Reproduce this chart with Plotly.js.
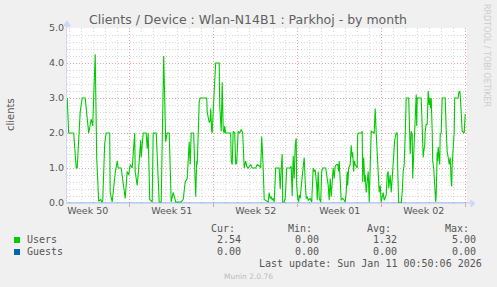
<!DOCTYPE html>
<html>
<head>
<meta charset="utf-8">
<script src="https://cdn.plot.ly/plotly-3.0.1.min.js"></script>
<style>
  html, body { margin: 0; padding: 0; background: #F0F0F0; }
  #chart { width: 497px; height: 287px; }
</style>
</head>
<body>
<div id="chart"></div>
<script>
// Time in hours since Monday 2025-12-08 00:00 (start of Week 50)
const usersHours = [43,46,56,61,63,69,73,79,86,91,94,99,102,106,110,112,114,118,121,128,129,133,139,143,145,151,159,163,166,169,173,176,178,179,183,186,190,191,195,201,203,205,208,213,215,221,227,231,236,240,243,247,251,255,260,271,275,279,283,287,289,291,296,298,300,302,303,305,307,309,322,323,327,329,330,332,333,337,340,347,348,351,353,355,357,358,360,370,371,373,375,378,380,382,385,388,391,394,397,400,402,405,410,413,420,423,428,430,432,435,437,445,447,449,451,453,455,457,459,460,467,469,471,473,474,477,479,481,482,489,491,493,494,495,497,499,501,502,504,506,507,509,512,514,515,517,519,521,523,525,529,532,535,537,539,542,543,545,547,550,552,554,560,562,565,567,569,571,575,577,579,582,584,586,587,591,594,597,599,601,603,604,606,609,611,613,614,616,617,619,623,624,625,632,633,634,636,638,639,641,643,645,647,649,651,657,659,661,663,664,665,667,669,671,675,677,681,683,685,686,689,691,693,696,698,701,703,704,706,711,713,715,717,719,721,726,728,729,731,733,734,735,737,739,741,742,743,751,753,755,756,758,759,761,763,764,765,767,768,770,771,773,774,776,777,779,780,781,783,784,785,787,788,789,791,793,799,801,803,805,807,808,809,811,812,813,815,817,818,825,826,828,829,831,832,833,837,838,839];
const usersValues = [3.0,2.0,2.0,1.0,1.0,2.6,3.0,3.0,2.0,2.4,2.2,4.25,1.3,0.05,0.1,0.03,0.05,1.7,2.0,2.0,0.3,0.03,0.85,1.2,1.0,1.0,0.13,0.9,0.8,1.1,1.0,1.85,2.0,0.9,0.5,1.0,1.8,1.3,2.0,2.0,1.55,2.0,0.1,0.03,2.0,2.0,0.03,0.03,4.2,1.75,2.0,2.0,0.03,0.3,0.03,0.03,0.1,0.6,0.7,1.75,1.1,2.0,2.0,1.0,0.18,1.2,1.1,1.95,2.9,3.0,3.0,2.6,2.3,2.35,2.7,2.05,2.0,3.2,4.0,4.0,2.8,2.05,3.45,2.1,2.0,2.2,2.0,2.0,1.2,1.1,2.05,2.0,1.1,1.15,2.05,2.0,2.1,2.0,1.0,1.2,1.05,1.0,1.1,1.0,1.0,1.1,1.05,1.0,1.9,1.0,0.1,0.03,0.3,0.13,0.18,0.08,0.13,0.03,0.7,1.0,1.0,0.4,1.0,1.4,0.03,0.03,0.13,0.9,1.0,1.0,1.05,0.2,0.75,1.35,0.7,1.65,1.85,0.5,0.13,0.03,0.23,0.13,0.6,1.0,0.9,1.3,0.6,0.13,0.18,0.08,0.13,0.03,1.0,0.9,0.95,0.5,0.08,0.9,0.13,0.03,0.9,1.0,1.0,0.8,0.5,0.08,0.7,0.18,1.0,0.7,1.05,1.1,1.1,0.9,1.2,0.08,0.13,0.08,0.03,0.3,0.9,0.5,1.0,1.1,1.65,1.3,1.45,0.9,1.2,1.1,1.0,1.95,2.0,2.0,2.05,0.6,1.3,0.6,0.8,0.3,0.7,0.9,0.03,1.45,2.05,2.0,2.7,2.0,1.3,1.1,0.7,0.3,0.5,0.03,0.3,0.08,0.23,0.8,0.9,0.42,0.8,0.3,0.7,1.3,1.8,2.0,2.0,1.0,0.0,0.0,0.3,0.9,1.1,1.95,3.0,3.0,1.95,1.4,2.05,1.95,0.7,1.1,2.05,2.8,3.1,2.2,3.0,3.0,2.05,1.3,1.45,1.65,2.05,2.25,2.25,2.9,3.2,2.8,3.0,2.7,3.0,2.05,1.2,1.0,0.8,0.13,0.03,0.23,1.45,1.2,1.6,1.3,1.1,1.95,2.0,3.0,3.0,2.1,1.45,1.3,1.1,1.2,1.3,0.6,0.47,1.1,1.65,2.05,3.0,3.0,3.15,3.2,3.1,2.7,2.2,2.05,2.0,2.2,2.54];
const guestsHours = [43, 842];
const guestsValues = [0, 0];

const weekTickHours = [84, 252, 420, 588, 756];
const weekTickLabels = ['Week 50', 'Week 51', 'Week 52', 'Week 01', 'Week 02'];

const legendNames = ['Users', 'Guests'];
const legendColors = ['#00CC00', '#0066B3'];
const statHeaders = ['Cur:', 'Min:', 'Avg:', 'Max:'];
const usersStats = ['2.54', '0.00', '1.32', '5.00'];
const guestsStats = ['0.00', '0.00', '0.00', '0.00'];

const titleText = 'Clients / Device : Wlan-N14B1 : Parkhoj - by month';
const yLabel = 'clients';
const lastUpdate = 'Last update: Sun Jan 11 00:50:06 2026';
const footer = 'Munin 2.0.76';
const sideText = 'RRDTOOL / TOBI OETIKER';

// ---- layout geometry (pixels) ----
const W = 497, H = 287, L = 67, T = 28, PW = 400, PH = 175;
const px = x => (x - L) / PW;
const py = y => (T + PH - y) / PH;

const mono = 'DejaVu Sans Mono';
const sans = 'DejaVu Sans';
const fontCol = '#555555';

const annotations = [];
function ann(text, x, y, xanchor, font, extra) {
  annotations.push(Object.assign({
    text: text, xref: 'paper', yref: 'paper', x: px(x), y: py(y),
    xanchor: xanchor, yanchor: 'middle', showarrow: false,
    font: font, borderpad: 0
  }, extra || {}));
}
const monoFont = {family: mono, size: 10, color: fontCol};

const headerRight = [236, 313, 392, 470];
const valueRight = [242, 320, 398, 477];
statHeaders.forEach((h, i) => ann(h, headerRight[i], 228.5, 'right', monoFont));
ann(legendNames[0], 26, 239.5, 'left', monoFont);
ann(legendNames[1], 26, 251.5, 'left', monoFont);
usersStats.forEach((v, i) => ann(v, valueRight[i], 239.5, 'right', monoFont));
guestsStats.forEach((v, i) => ann(v, valueRight[i], 251.5, 'right', monoFont));
ann(lastUpdate, 483, 263.5, 'right', monoFont);
ann(footer, 248, 276, 'center', {family: sans, size: 7.5, color: '#BBBBBB'});
ann(sideText, 486, 55, 'center', {family: sans, size: 8, color: '#CCCCCC'}, {textangle: 90});
ann(yLabel, 10, 115, 'center', {family: sans, size: 10, color: fontCol}, {textangle: -90});

const shapes = [];
function rect(x0, y0, x1, y1, color) {
  shapes.push({type: 'rect', xref: 'paper', yref: 'paper',
    x0: px(x0), x1: px(x1), y0: py(y0), y1: py(y1),
    fillcolor: color, line: {width: 0}});
}
rect(14, 237, 20, 243, legendColors[0]);
rect(14, 249, 20, 255, legendColors[1]);
// axis arrows
const axisCol = '#CFD6F8';
function path(pts, color) {
  const d = pts.map((p, i) => (i ? 'L' : 'M') + px(p[0]) + ',' + py(p[1])).join(' ') + ' Z';
  shapes.push({type: 'path', xref: 'paper', yref: 'paper', path: d,
    fillcolor: color, line: {color: color, width: 1}});
}
path([[467, 203], [471, 203]], axisCol);
path([[471, 200], [475, 203.5], [471, 207]], axisCol);
path([[67, 28], [67, 25]], axisCol);
path([[63.5, 26], [67, 21], [70.5, 26]], axisCol);

const traces = [
  {x: usersHours, y: usersValues, type: 'scatter', mode: 'lines', name: legendNames[0],
   line: {color: legendColors[0], width: 1.1}, hoverinfo: 'skip'},
  {x: guestsHours, y: guestsValues, type: 'scatter', mode: 'lines', name: legendNames[1],
   xaxis: 'x2', line: {color: legendColors[1], width: 1}, opacity: 0.6, hoverinfo: 'skip'}
];

const xr = [42.6, 842.6];
const layout = {
  width: W, height: H,
  margin: {l: L, r: W - L - PW, t: T, b: H - T - PH, pad: 0},
  paper_bgcolor: '#F0F0F0', plot_bgcolor: '#FFFFFF',
  showlegend: false,
  title: {text: titleText, font: {family: sans, size: 12.5, color: '#606060'},
          x: 248 / W, xanchor: 'center', xref: 'container', y: 1 - 19.5 / H, yanchor: 'middle'},
  xaxis: {
    range: xr, tick0: 0, dtick: 168, showticklabels: false,
    ticks: 'outside', ticklen: 3, tickcolor: '#E4A0A0', tickwidth: 1,
    showgrid: true, gridcolor: '#E4A6A6', griddash: '1px,2px', gridwidth: 1,
    minor: {tick0: 0, dtick: 24, showgrid: true, gridcolor: '#D8D8D8', griddash: '1px,2px', gridwidth: 1, ticks: ''},
    showline: true, linecolor: axisCol, linewidth: 1, zeroline: false, fixedrange: true
  },
  xaxis2: {
    overlaying: 'x', side: 'bottom', range: xr,
    tickmode: 'array', tickvals: weekTickHours, ticktext: weekTickLabels,
    ticks: '', showgrid: false, showline: false, zeroline: false,
    tickfont: {family: sans, size: 9.5, color: fontCol}, fixedrange: true
  },
  yaxis: {
    range: [0, 5], tick0: 0, dtick: 1, tickformat: '.1f',
    ticks: '', showgrid: true, gridcolor: '#E4A6A6', griddash: '1px,2px', gridwidth: 1,
    minor: {tick0: 0, dtick: 0.2, showgrid: true, gridcolor: '#D8D8D8', griddash: '1px,2px', gridwidth: 1, ticks: ''},
    showline: true, linecolor: axisCol, linewidth: 1, zeroline: false,
    tickfont: {family: sans, size: 9.5, color: fontCol}, fixedrange: true
  },
  annotations: annotations,
  shapes: shapes
};

Plotly.newPlot('chart', traces, layout, {staticPlot: true, displayModeBar: false});
</script>
</body>
</html>
